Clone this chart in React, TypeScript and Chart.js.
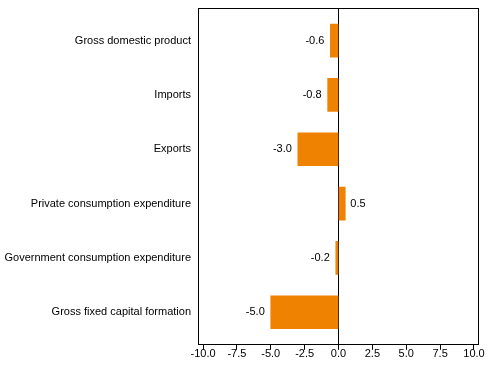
import React, { useEffect, useRef } from "react";
import { Chart, registerables } from "chart.js";

Chart.register(...registerables);

const categories = [
  "Gross domestic product",
  "Imports",
  "Exports",
  "Private consumption expenditure",
  "Government consumption expenditure",
  "Gross fixed capital formation",
];
const values = [-0.6, -0.8, -3.0, 0.5, -0.2, -5.0];
const xTicks = [-10, -7.5, -5, -2.5, 0, 2.5, 5, 7.5, 10];

const FONT = "Arial, 'Liberation Sans', sans-serif";
const BAR_COLOR = "#EF8200";

const framePlugin = {
  id: "frame",
  afterDraw(chart: any) {
    const { ctx, chartArea } = chart;
    ctx.save();
    ctx.strokeStyle = "#000";
    ctx.lineWidth = 1;
    ctx.strokeRect(
      Math.round(chartArea.left) + 0.5,
      Math.round(chartArea.top) + 0.5,
      Math.round(chartArea.right - chartArea.left) - 1,
      Math.round(chartArea.bottom - chartArea.top) - 1
    );
    ctx.restore();
  },
};

const labelPlugin = {
  id: "valueLabels",
  afterDatasetsDraw(chart: any) {
    const { ctx } = chart;
    const meta = chart.getDatasetMeta(0);
    ctx.save();
    ctx.font = `11px ${FONT}`;
    ctx.fillStyle = "#000";
    ctx.textBaseline = "middle";
    meta.data.forEach((bar: any, i: number) => {
      const v = values[i];
      const txt = v.toFixed(1);
      if (v < 0) {
        ctx.textAlign = "right";
        ctx.fillText(txt, bar.x - 6, bar.y);
      } else {
        ctx.textAlign = "left";
        ctx.fillText(txt, bar.x + 5, bar.y);
      }
    });
    ctx.restore();
  },
};

export default function App() {
  const ref = useRef<HTMLCanvasElement>(null);
  useEffect(() => {
    if (!ref.current) return;
    const chart = new Chart(ref.current, {
      type: "bar",
      data: {
        datasets: [
          {
            data: values.map((v, i) => ({ x: v, y: i })),
            backgroundColor: BAR_COLOR,
            borderWidth: 0,
            barThickness: 33,
          },
        ],
      },
      options: {
        indexAxis: "y",
        animation: false,
        responsive: false,
        maintainAspectRatio: false,
        layout: { padding: { top: 8, right: 12, bottom: 19, left: 5 } },
        plugins: {
          legend: { display: false },
          tooltip: { enabled: false },
        },
        scales: {
          x: {
            type: "linear",
            min: -10.37,
            max: 10.37,
            offset: false,
            afterBuildTicks: (axis: any) => {
              axis.ticks = xTicks.map((v) => ({ value: v }));
            },
            ticks: {
              color: "#000",
              font: { family: FONT, size: 11 },
              padding: -2,
              maxRotation: 0,
              autoSkip: false,
              callback: (v: any) => Number(v).toFixed(1),
            },
            grid: {
              drawOnChartArea: true,
              drawTicks: true,
              tickLength: 5,
              tickColor: "#000",
              color: (c: any) => (c.tick && c.tick.value === 0 ? "#000" : "rgba(0,0,0,0)"),
              lineWidth: 1,
            },
            border: { display: false },
          },
          y: {
            type: "linear",
            min: -0.6,
            max: 5.6,
            reverse: true,
            offset: false,
            afterBuildTicks: (axis: any) => {
              axis.ticks = categories.map((_, i) => ({ value: i }));
            },
            afterFit: (axis: any) => {
              axis.width = 193;
              axis.paddingTop = 0;
              axis.paddingBottom = 0;
            },
            ticks: {
              color: "#000",
              font: { family: FONT, size: 11 },
              padding: 7,
              autoSkip: false,
              callback: (v: any) => categories[v as number] ?? "",
            },
            grid: { display: false, drawTicks: false },
            border: { display: false },
          },
        },
      },
      plugins: [framePlugin, labelPlugin],
    } as any);
    return () => chart.destroy();
  }, []);
  return (
    <div style={{ position: "absolute", left: 0, top: 0, width: 491, height: 378, background: "#fff" }}>
      <canvas ref={ref} width={491} height={378} style={{ display: "block" }} />
    </div>
  );
}
